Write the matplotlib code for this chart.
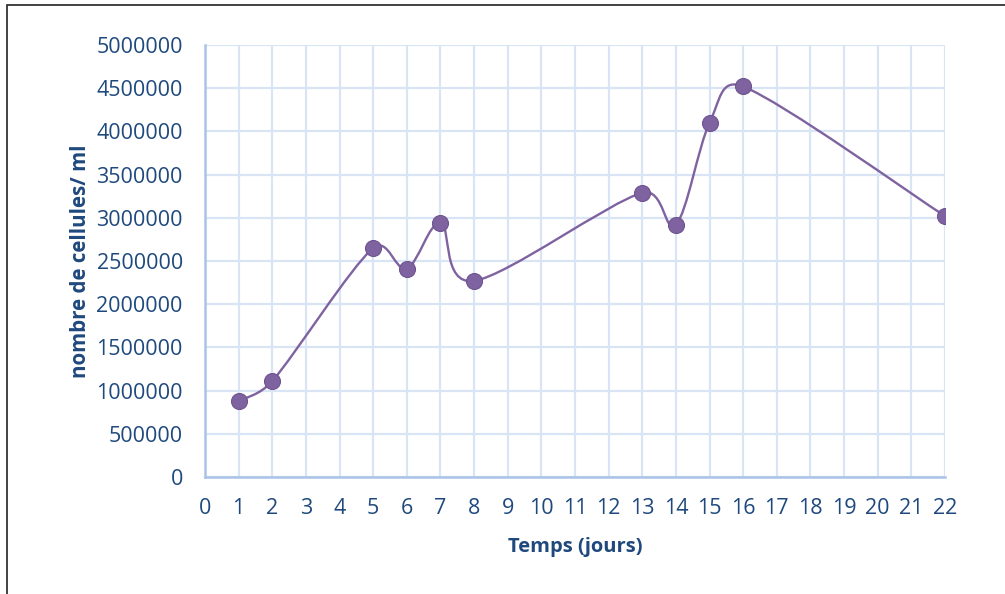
import math
import matplotlib
matplotlib.use('Agg')
import matplotlib.pyplot as plt
from matplotlib.path import Path
from matplotlib.patches import PathPatch, Rectangle
from matplotlib.ticker import FuncFormatter

# cell counts over time
jours = [1, 2, 5, 6, 7, 8, 13, 14, 15, 16, 22]
cellules = [880000, 1110000, 2650000, 2410000, 2940000, 2270000,
            3290000, 2920000, 4100000, 4520000, 3020000]

x_ticks = list(range(0, 23))
y_ticks = list(range(0, 5000001, 500000))

PURPLE = '#7F63A1'
TEXT = '#1F497D'
GRID = '#D9E4F4'
AXIS = '#AAC3E8'

plt.rcParams['font.family'] = ['Open Sans', 'DejaVu Sans']


def smooth_path(xs, ys, sx, sy):
    # smoothed line: cubic Bezier through each point, tangent (next - prev)/6,
    # each control arm capped at half of its segment (in screen units)
    pts = list(zip(xs, ys))
    n = len(pts)

    def dist(a, b):
        return math.hypot((b[0] - a[0]) * sx, (b[1] - a[1]) * sy)

    def ctrl(i, toward):
        prev = pts[max(i - 1, 0)]
        nxt = pts[min(i + 1, n - 1)]
        tx = (nxt[0] - prev[0]) / 6
        ty = (nxt[1] - prev[1]) / 6
        arm = math.hypot(tx * sx, ty * sy)
        if arm == 0:
            return pts[i]
        seg = dist(pts[i], nxt) if toward > 0 else dist(prev, pts[i])
        k = min(1.0, seg / 2 / arm) * toward
        return (pts[i][0] + tx * k, pts[i][1] + ty * k)

    verts = [pts[0]]
    codes = [Path.MOVETO]
    for i in range(n - 1):
        verts += [ctrl(i, 1), ctrl(i + 1, -1), pts[i + 1]]
        codes += [Path.CURVE4] * 3
    return Path(verts, codes)


fig = plt.figure(figsize=(10.05, 5.94), dpi=100)
ax = fig.add_axes([205 / 1005, 1 - 477 / 594, 740 / 1005, 432 / 594])

# outer frame
fig.patches.append(Rectangle((7 / 1005, -0.1), 1.2, 1 - 5 / 594 + 0.1,
                             transform=fig.transFigure, fill=False,
                             edgecolor='#222222', linewidth=1.2))

ax.set_xlim(0, 22)
ax.set_ylim(0, 5000000)

px_x = 740 / 22
px_y = 432 / 5000000
ax.add_patch(PathPatch(smooth_path(jours, cellules, px_x, px_y),
                       facecolor='none', edgecolor=PURPLE, linewidth=1.7,
                       zorder=3))
ax.plot(jours, cellules, linestyle='none', marker='o', markersize=11.5,
        markerfacecolor=PURPLE, markeredgecolor='#6E5490',
        markeredgewidth=0.8, zorder=4)

ax.set_xticks(x_ticks)
ax.set_yticks(y_ticks)
ax.yaxis.set_major_formatter(FuncFormatter(lambda v, p: f'{v:.0f}'))

ax.grid(True, color=GRID, linewidth=1.6)
ax.set_axisbelow(True)
for side in ('top', 'right'):
    ax.spines[side].set_visible(False)
for side in ('left', 'bottom'):
    ax.spines[side].set_color(AXIS)
    ax.spines[side].set_linewidth(1.8)

ax.tick_params(length=0, labelsize=15.5, labelcolor=TEXT)
ax.tick_params(axis='y', pad=16)
ax.tick_params(axis='x', pad=15)

ax.set_xlabel('Temps (jours)', fontsize=14.5, fontweight='bold', color=TEXT,
              labelpad=13)
ax.set_ylabel('nombre de cellules/ ml', fontsize=14.8, fontweight='bold',
              color=TEXT, labelpad=4)

fig.savefig('out.png', dpi=100)
